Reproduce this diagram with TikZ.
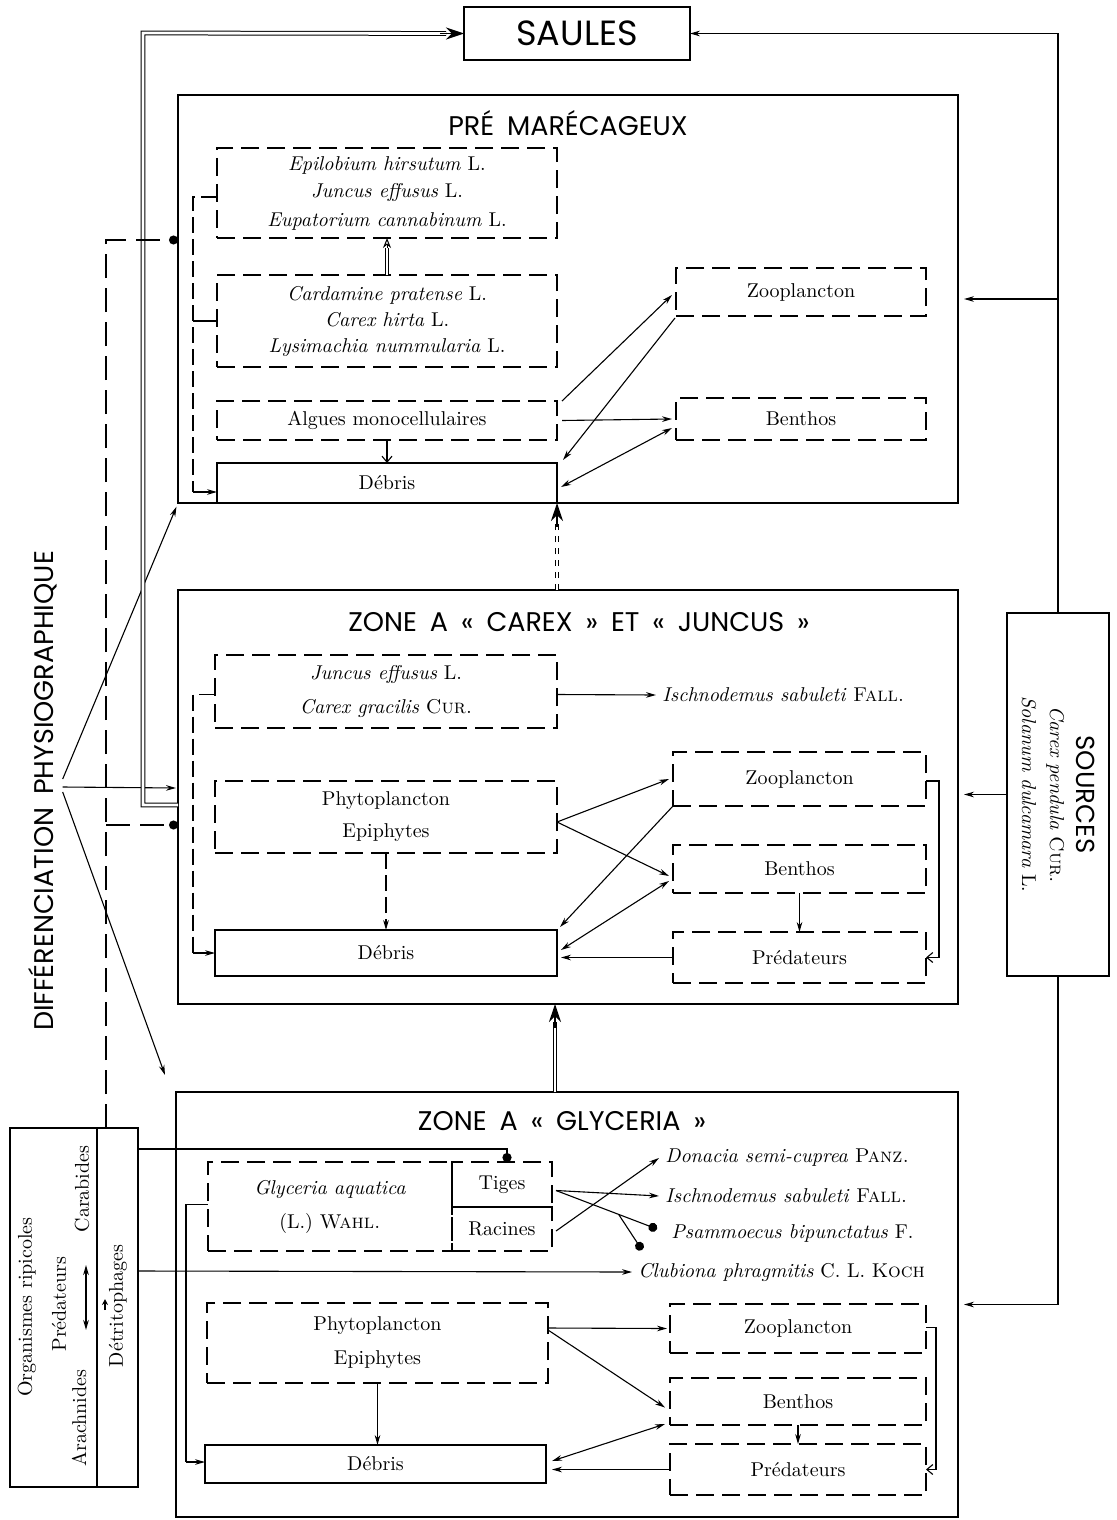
\documentclass[tikz,border=0pt]{standalone}
\usepackage{fontspec}
\newfontfamily\hdrfont{Poppins}[WordSpace=1.8]
\usetikzlibrary{fit,calc,arrows.meta}
\newcommand\bodyfont{\fontsize{10}{14}\selectfont}
\newcommand\hdrS{\hdrfont\fontsize{17.5}{20}\selectfont}
\newcommand\hdrZ{\hdrfont\fontsize{13.5}{16}\selectfont}
\newcommand\hdrSrc{\hdrfont\fontsize{13}{15}\selectfont}
% box from pixel corners (x1,y1)-(x2,y2); 1px = 0.5pt
\newcommand\mkbox[7]{\node[#1, minimum width={(#5-#3)*0.5pt}, minimum height={(#6-#4)*0.5pt}] (#2) at ({(#3+#5)/2},{(#4+#6)/2}) {#7};}
\tikzset{
  zone/.style={draw, line width=1.3pt, inner sep=0pt, outer sep=0pt},
  dbox/.style={draw, line width=0.8pt, dash pattern=on 9pt off 4pt, inner sep=0pt, outer sep=0pt, align=center, font=\bodyfont},
  sbox/.style={draw, line width=0.8pt, inner sep=0pt, outer sep=0pt, align=center, font=\bodyfont},
  conn/.style={line width=0.55pt},
  dconn/.style={line width=0.55pt, dash pattern=on 8pt off 3pt},
  sp/.style={anchor=west, inner sep=3pt, font=\bodyfont},
  rtxt/.style={rotate=90, inner sep=1pt, font=\bodyfont},
  dbl/.style={double, double distance=1.4pt, line width=0.5pt},
  ldash/.style={line width=0.7pt, dash pattern=on 12pt off 5pt},
  bigtip/.style={-{Stealth[length=9pt,width=6pt]}, line width=0.6pt},
  barb/.style={-{Straight Barb[length=3pt,width=5pt]}},
  dottip/.style={-{Circle[length=4.5pt]}}
}
\begin{document}
\begin{tikzpicture}[x=0.5pt,y=-0.5pt, >={Stealth[length=5pt,width=2.8pt]}]
\useasboundingbox (0,0) rectangle (1116,1520);

% ---------- SAULES ----------
\mkbox{sbox, font=\hdrS}{saules}{464}{7}{690}{60}{SAULES}

% ---------- PRE MARECAGEUX ----------
\node[zone, fit={(178,95)(958,503)}] (pre) {};
\node[font=\hdrZ] (preT) at (568,123) {PRÉ MARÉCAGEUX};
\mkbox{dbox}{epi}{217}{148}{557}{238}{\textit{Epilobium hirsutum} L.\\ \textit{Juncus effusus} L.\\ \textit{Eupatorium cannabinum} L.}
\mkbox{dbox}{card}{217}{275}{557}{367}{\textit{Cardamine pratense} L.\\[-1pt] \textit{Carex hirta} L.\\[-1pt] \textit{Lysimachia nummularia} L.}
\mkbox{dbox}{alg}{217}{401}{557}{440}{Algues monocellulaires}
\mkbox{sbox}{deb1}{217}{463}{557}{503}{Débris}
\mkbox{dbox}{zoo1}{676}{268}{926}{316}{Zooplancton}
\mkbox{dbox}{ben1}{676}{398}{926}{440}{Benthos}

% ---------- ZONE CAREX JUNCUS ----------
\node[zone, fit={(178,590)(958,1004)}] (car) {};
\node[font=\hdrZ] (carT) at (579,622) {ZONE A « CAREX » ET « JUNCUS »};
\mkbox{dbox}{junc}{215}{655}{557}{728}{\textit{Juncus effusus} L.\\[3pt] \textit{Carex gracilis} \textsc{Cur.}}
\node[sp] (isch2) at (656,695) {\textit{Ischnodemus sabuleti} \textsc{Fall.}};
\mkbox{dbox}{phy2}{215}{781}{557}{853}{Phytoplancton\\[2pt] Epiphytes}
\mkbox{sbox}{deb2}{215}{930}{557}{976}{Débris}
\mkbox{dbox}{zoo2}{673}{752}{926}{806}{Zooplancton}
\mkbox{dbox}{ben2}{673}{845}{926}{893}{Benthos}
\mkbox{dbox}{pred2}{673}{932}{926}{983}{Prédateurs}

% ---------- ZONE GLYCERIA ----------
\node[zone, fit={(176,1092)(958,1517)}] (gly) {};
\node[font=\hdrZ] (glyT) at (562,1121) {ZONE A « GLYCERIA »};
\mkbox{dbox}{glyA}{208}{1162}{452}{1251}{\textit{Glyceria aquatica}\\[3pt] (L.) \textsc{Wahl.}}
\mkbox{dbox}{tig}{452}{1162}{552}{1207}{Tiges}
\mkbox{dbox}{rac}{452}{1207}{552}{1251}{Racines}
\node[sp] (don) at (659,1158) {\textit{Donacia semi-cuprea} \textsc{Panz.}};
\node[sp] (isch3) at (659,1196) {\textit{Ischnodemus sabuleti} \textsc{Fall.}};
\node[sp] (psam) at (665,1233) {\textit{Psammoecus bipunctatus} F.};
\node[sp] (club) at (632,1272) {\textit{Clubiona phragmitis} C. L. \textsc{Koch}};
\mkbox{dbox}{phy3}{207}{1303}{548}{1383}{Phytoplancton\\[3pt] Epiphytes}
\mkbox{sbox}{deb3}{205}{1445}{546}{1483}{Débris}
\mkbox{dbox}{zoo3}{670}{1304}{926}{1353}{Zooplancton}
\mkbox{dbox}{ben3}{670}{1378}{926}{1425}{Benthos}
\mkbox{dbox}{pred3}{670}{1444}{926}{1495}{Prédateurs}

% ---------- SOURCES ----------
\node[draw, line width=0.8pt, rotate=-90, minimum width=181.5pt, minimum height=51pt,
      inner sep=0pt, outer sep=0pt, align=center, font=\bodyfont] (src) at (1058,794.5)
      {{\hdrSrc SOURCES}\\[-1pt] \textit{Carex pendula} \textsc{Cur.}\\ \textit{Solanum dulcamara} L.};

% ---------- ORGANISMES RIPICOLES ----------
\node[sbox, fit={(10,1128)(138,1487)}] (org) {};
\draw[line width=0.8pt] ($(org.north west)+(87,0)$) -- ($(org.south west)+(87,0)$);
\node[rtxt] (orgT) at (27,1307) {Organismes ripicoles};
\node[rtxt] (predO) at (59,1304) {Prédateurs};
\node[rtxt] (carab) at (82,1189) {Carabides};
\node[rtxt] (arach) at (79,1418) {Arachnides};
\node[rtxt] (detr) at (118,1306) {Détritophages};
\coordinate (oa) at (86,1265);
\coordinate (ob) at (86,1330);
\draw[line width=0.9pt, <->] (oa) -- (ob);
\coordinate (sa) at (105,1310);
\coordinate (sb) at (105,1299);
\draw[conn, -{Stealth[length=3pt,width=3pt]}] (sa) -- (sb);

% ---------- DIFFERENCIATION ----------
\node[rotate=90, font=\hdrZ, inner sep=2pt] (diff) at (43,791) {DIFFÉRENCIATION PHYSIOGRAPHIQUE};
\draw[conn,->, shorten >=2pt] ($(diff.south)+(1,-12)$) -- (pre.south west);
\draw[conn,->] ($(diff.south)+(1,-4)$) -- ($(car.west)+(-2,-9)$);
\draw[conn,->] ($(diff.south)+(1,1)$) -- ($(gly.north west)+(-11,-17)$);

% ---------- double connectors ----------
\coordinate (dc) at (143,33);
\draw[dbl, shorten >=9pt] ($(car.west)+(0,8)$) -| (dc) -- (saules.west);
\draw[bigtip] ($(saules.west)+(-24,0)$) -- (saules.west);
\coordinate (u1) at ($(pre.south west)+(379,0)$);
\draw[dbl, dashed, shorten >=9pt] (u1 |- car.north) -- (u1);
\draw[bigtip] ($(u1)+(0,24)$) -- (u1);
\coordinate (u2) at ($(car.south west)+(377,0)$);
\draw[dbl, shorten >=9pt] (u2 |- gly.north) -- (u2);
\draw[bigtip] ($(u2)+(0,24)$) -- (u2);

% ---------- dashed link from Organismes ----------
\coordinate (dv) at (106,240);
\coordinate (dv2) at (106,825);
\draw[ldash, dottip] (org.north -| dv) -- (dv) -- (dv -| pre.west);
\draw[ldash, dottip] (dv2) -- (dv2 -| car.west);

% ---------- right side ----------
\draw[conn,->] (src.west) |- (saules.east);
\draw[conn,->, shorten >=3pt] (src.west |- pre.east) -- (pre.east);
\draw[conn,->, shorten >=3pt] (src.south) -- (src.south -| car.east);
\draw[conn,->, shorten >=3pt] (src.east) |- (gly.east);

% ---------- Pre connectors ----------
\draw[conn,->] ($(alg.north east)+(5,0)$) -- ($(zoo1.west)+(-4,3)$);
\draw[conn,->] ($(zoo1.south west)+(-1,2)$) -- ($(deb1.north east)+(6,-3)$);
\draw[conn,->] ($(alg.east)+(5,0)$) -- ($(ben1.west)+(-4,0)$);
\draw[conn,<->] ($(ben1.west)+(-4,9)$) -- ($(deb1.east)+(4,4)$);
\draw[conn,barb] (alg.south) -- (deb1.north);
\draw[line width=0.4pt, double distance=1.3pt, shorten >=5pt] (card.north) -- (epi.south);
\draw[-{Stealth[open,length=5pt,width=4pt]}, line width=0.5pt] ($(epi.south)+(0,10)$) -- (epi.south);
\coordinate (pb) at (193,492);
\draw[dconn] ($(epi.west)+(0,4)$) -| (pb);
\draw[conn,->] (pb) -- (pb -| deb1.west);
\draw[conn] (card.west) -- ++(-24,0);

% ---------- Carex connectors ----------
\draw[conn,->] ($(junc.east)+(0,3)$) -- (isch2.west);
\coordinate (cb) at (193,953);
\draw[dconn] ($(junc.west)+(0,3)$) -| (cb);
\draw[conn,->] (cb) -- (cb -| deb2.west);
\draw[dconn,->] (phy2.south) -- (deb2.north);
\draw[conn,->] ($(phy2.east)+(0,5)$) -- ($(zoo2.west)+(-4,0)$);
\draw[conn,->] ($(phy2.east)+(0,5)$) -- ($(ben2.west)+(-4,7)$);
\draw[conn,->] (zoo2.south west) -- ($(deb2.north east)+(3,-3)$);
\draw[conn,<->] ($(ben2.west)+(-4,12)$) -- ($(deb2.east)+(4,-3)$);
\draw[conn,->, shorten >=2pt] (pred2.west) -- (pred2.west -| deb2.east);
\draw[conn,->] (ben2.south) -- (ben2.south |- pred2.north);
\draw[conn,barb] ($(zoo2.east)+(0,2)$) -- ++(13,0) |- (pred2.east);

% ---------- Glyceria connectors ----------
\draw[line width=1.4pt, dottip] ($(org.north east)+(0,21)$) -| ($(tig.north)+(5,0)$);
\draw[conn,->] ($(org.north east)+(0,143)$) -- (club.west);
\coordinate (ts) at ($(tig.east)+(4,6)$);
\coordinate (pdot) at (657,1229);
\coordinate (bdot) at (642,1250);
\draw[conn,->] (ts) -- (isch3.west);
\draw[conn,dottip] (ts) -- (pdot);
\draw[conn,dottip] ($(ts)!0.62!(pdot)$) -- (bdot);
\draw[conn,->] ($(rac.east)+(4,2)$) -- (don.west);
\coordinate (gb) at (186,1462);
\draw[conn] ($(glyA.west)+(0,-2)$) -| (gb);
\draw[conn,->] (gb) -- (gb -| deb3.west);
\draw[conn,->] (phy3.south) -- (phy3.south |- deb3.north);
\draw[conn,->] ($(phy3.east)+(0,-15)$) -- ($(zoo3.west)+(-3,0)$);
\draw[conn,->] ($(phy3.east)+(0,-13)$) -- ($(ben3.west)+(-5,6)$);
\draw[conn,<->] ($(ben3.south west)+(-5,-1)$) -- ($(deb3.east)+(6,-3)$);
\draw[conn,->] (pred3.west) -- ($(pred3.west -| deb3.east)+(6,0)$);
\draw[conn,->] (ben3.south) -- (pred3.north);
\draw[conn,barb] ($(zoo3.east)+(0,-1)$) -- ++(10,0) |- (pred3.east);
\end{tikzpicture}
\end{document}
